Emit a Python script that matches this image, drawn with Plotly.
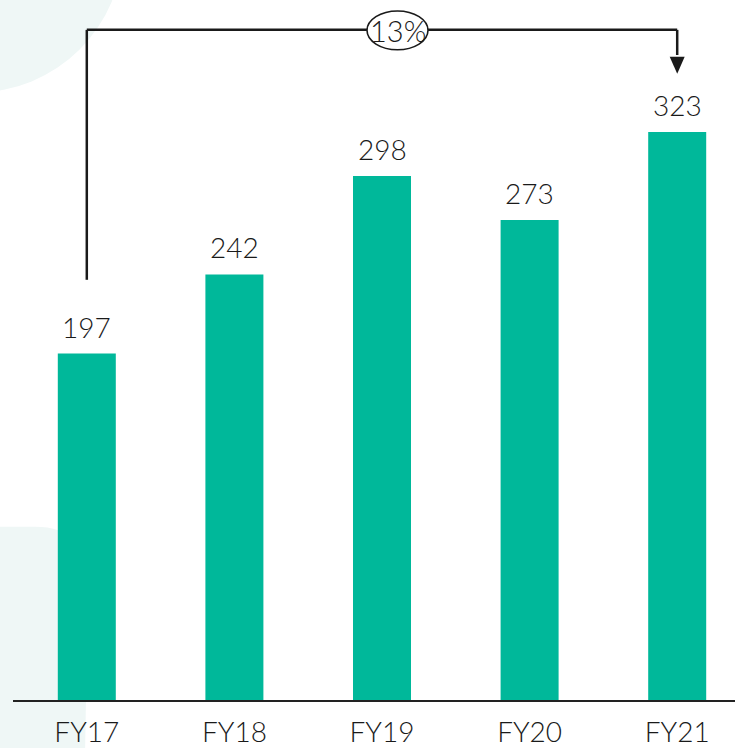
import plotly.graph_objects as go

categories = ["FY17", "FY18", "FY19", "FY20", "FY21"]
values = [197, 242, 298, 273, 323]
cagr_label = "13%"

BAR = "#00b89a"
BLOB = "#eff7f6"
INK = "#1a1a1a"
FONT = "Lato"

OFF = 0  # page body margin (removed via post_script)
W, H = 735 - OFF, 748 - OFF
ML, MR, MT, MB = 13 - OFF, 0, 0, 45
pw, ph = W - ML - MR, H - MT - MB
XSCALE = 147.6   # px per category
YSCALE = 1.766   # px per unit
XR = [-0.5, -0.5 + pw / XSCALE]
YR = [0, ph / YSCALE]

def fx(px):  # page px -> figure px
    return px - OFF

def px_x(px):  # page pixel -> x data
    return XR[0] + (fx(px) - ML) / pw * (XR[1] - XR[0])

def px_y(py):  # page pixel -> y data
    return YR[0] + (H - MB - fx(py)) / ph * (YR[1] - YR[0])

def pap_x(px):
    return (fx(px) - ML) / pw

def pap_y(py):
    return (H - MB - fx(py)) / ph

fig = go.Figure()
fig.add_trace(go.Bar(x=categories, y=values, marker_color=BAR, marker_line_width=0,
                     hoverinfo="skip"))

shapes = []
# background decorations
cx, cy, r = -25, -55, 148
shapes.append(dict(type="circle", xref="paper", yref="paper",
                   x0=pap_x(cx - r), x1=pap_x(cx + r), y0=pap_y(cy + r), y1=pap_y(cy - r),
                   fillcolor=BLOB, line_width=0, layer="below"))
pts = [(-5, 529), (35, 529), (88, 529), (88, 585), (85, 760), (-5, 760)]
P = [(pap_x(a), pap_y(b)) for a, b in pts]
path = (f"M {P[0][0]},{P[0][1]} L {P[1][0]},{P[1][1]} Q {P[2][0]},{P[2][1]} {P[3][0]},{P[3][1]} "
        f"L {P[4][0]},{P[4][1]} L {P[5][0]},{P[5][1]} Z")
shapes.append(dict(type="path", xref="paper", yref="paper", path=path,
                   fillcolor=BLOB, line_width=0, layer="below"))

# bracket
i0, i1 = 0, len(categories) - 1
ytop = px_y(30)
yleft = px_y(281)
ytip = px_y(74)
yhead = px_y(57)
lw = 2.5
shapes.append(dict(type="line", x0=i0, x1=i0, y0=yleft, y1=ytop, line=dict(color=INK, width=lw)))
shapes.append(dict(type="line", x0=i0, x1=i1, y0=ytop, y1=ytop, line=dict(color=INK, width=lw)))
shapes.append(dict(type="line", x0=i1, x1=i1, y0=ytop, y1=yhead + 1, line=dict(color=INK, width=lw)))
hw = 7.5 / XSCALE
shapes.append(dict(type="path", path=f"M {i1-hw},{yhead} L {i1+hw},{yhead} L {i1},{ytip} Z",
                   fillcolor=INK, line_width=0))
# ellipse
shapes.append(dict(type="circle", x0=px_x(367), x1=px_x(428), y0=px_y(50), y1=px_y(11),
                   fillcolor="white", line=dict(color=INK, width=1.6)))

annotations = []
for c, v in zip(categories, values):
    annotations.append(dict(x=c, y=v, text=str(v), showarrow=False, yanchor="bottom",
                            yshift=8, font=dict(family=FONT, size=28, color=INK, weight=300)))
annotations.append(dict(x=(px_x(367) + px_x(428)) / 2, y=px_y(31), text=cagr_label,
                        showarrow=False, font=dict(family=FONT, size=29, color=INK, weight=300)))

fig.update_layout(
    width=W, height=H,
    margin=dict(l=ML, r=MR, t=MT, b=MB, pad=0),
    paper_bgcolor="white", plot_bgcolor="rgba(0,0,0,0)",
    bargap=0.607,
    showlegend=False,
    shapes=shapes,
    annotations=annotations,
    xaxis=dict(range=XR, showline=True, linecolor="#222", linewidth=2, ticks="",
               showgrid=False, zeroline=False, ticklabelstandoff=6,
               tickfont=dict(family=FONT, size=28, color=INK, weight=300), fixedrange=True),
    yaxis=dict(range=YR, visible=False, showgrid=False, zeroline=False, fixedrange=True),
)

fig.write_html("out.html", config={"displayModeBar": False},
               post_script="document.body.style.margin='0';document.body.style.overflow='hidden';")
